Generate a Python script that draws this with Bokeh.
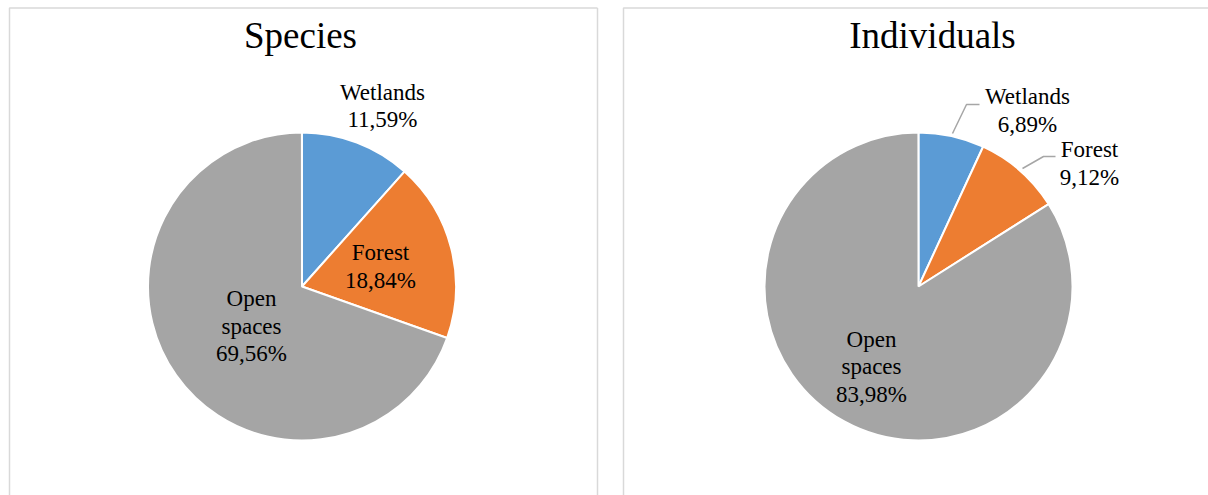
import math
from bokeh.plotting import figure
from bokeh.models import Range1d, ColumnDataSource
from bokeh.core.properties import value
from bokeh.embed import file_html
from bokeh.resources import INLINE

# ---- data ----
categories = ["Wetlands", "Forest", "Open spaces"]
species_pct = [11.59, 18.84, 69.56]
individuals_pct = [6.89, 9.12, 83.98]
species_labels = [["Wetlands", "11,59%"], ["Forest", "18,84%"], ["Open", "spaces", "69,56%"]]
individuals_labels = [["Wetlands", "6,89%"], ["Forest", "9,12%"], ["Open", "spaces", "83,98%"]]
titles = ["Species", "Individuals"]
colors = ["#5B9BD5", "#ED7D31", "#A5A5A5"]

# ---- layout (screenshot pixel coordinates) ----
W, H = 1208, 495
FONT = value("Liberation Serif")
centers = [(301.5, 286), (918, 286)]
radius = 154
title_pos = [(300, 35), (932, 35)]
label_pos = [
    [(382, 105.5), (380, 266), (251, 325.5)],
    [(1027, 110), (1089, 163), (871, 366)],
]
LINE_H = 27.5
panels = [(9, 597), (623, 1260)]

p = figure(width=W, height=H, x_range=Range1d(0, W), y_range=Range1d(-H, 0),
           output_backend="svg", toolbar_location=None, min_border=0)
p.axis.visible = False
p.grid.visible = False
p.outline_line_color = None
p.background_fill_color = "white"

# panel borders
for (l, r) in panels:
    p.line([l, l, r], [-520, -7.5, -7.5], line_color="#D9D9D9", line_width=1.5)
    if r < W:
        p.line([r, r], [-7.5, -520], line_color="#D9D9D9", line_width=1.5)

for i, pct in enumerate([species_pct, individuals_pct]):
    total = 100.0
    starts, ends = [], []
    acc = 0.0
    for v in pct:
        a0 = math.pi / 2 - 2 * math.pi * acc / total
        acc += v
        a1 = math.pi / 2 - 2 * math.pi * acc / total
        starts.append(a0)
        ends.append(a1)
    cx, cy = centers[i]
    src = ColumnDataSource(dict(start=starts, end=ends, color=colors, cat=categories))
    p.wedge(x=cx, y=-cy, radius=radius, start_angle="start", end_angle="end",
            direction="clock", fill_color="color", line_color="white", line_width=2,
            source=src)
    tx, ty = title_pos[i]
    p.text(x=[tx], y=[-ty], text=[titles[i]], text_font=FONT, text_font_size="37px",
           text_align="center", text_baseline="middle", text_color="black")
    labels = species_labels if i == 0 else individuals_labels
    xs, ys, ts = [], [], []
    for (lx, ly), lines in zip(label_pos[i], labels):
        n = len(lines)
        for k, t in enumerate(lines):
            xs.append(lx)
            ys.append(-(ly + (k - (n - 1) / 2) * LINE_H))
            ts.append(t)
    p.text(x=xs, y=ys, text=ts, text_font=value("Liberation Serif"), text_font_size="23px",
           text_align="center", text_baseline="middle", text_color="black")

# leader lines for the small slices of the right pie
p.line([952, 966, 979], [-133, -104, -104], line_color="#A6A6A6", line_width=1.5)
p.line([1022, 1043, 1055], [-168, -156, -156], line_color="#A6A6A6", line_width=1.5)

open("out.html", "w").write(file_html(p, INLINE))
